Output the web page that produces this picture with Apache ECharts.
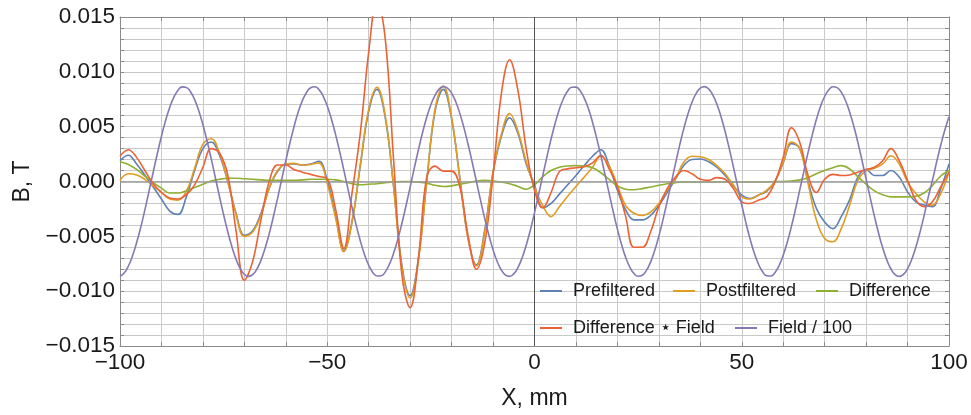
<!DOCTYPE html>
<html>
<head>
<meta charset="utf-8">
<script src="https://cdn.jsdelivr.net/npm/echarts@6/dist/echarts.min.js"></script>
<style>
  html, body { margin: 0; padding: 0; background: #fff; }
  #chart { width: 971px; height: 415px; }
</style>
</head>
<body>
<div id="chart"></div>
<script>
// Sample positions of the measured curves, mm
const X_MM = [-100,-98,-96,-94,-92,-90,-88,-86,-84,-82,-80,-78,-76,-74,-72,-70,-68,-66,-64,-62,-60,-58,-56,-54,-52,-50,-48,-46,-44,-42,-40,-38,-36,-34,-32,-30,-28,-26,-24,-22,-20,-18,-16,-14,-12,-10,-8,-6,-4,-2,0,2,4,6,8,10,12,14,16,18,20,22,24,26,28,30,32,34,36,38,40,42,44,46,48,50,52,54,56,58,60,62,64,66,68,70,72,74,76,78,80,82,84,86,88,90,92,94,96,98,100];

// Values, in mT (0.001 T)
const PREFILTERED_mT = [1.9,2.4,1.6,0.6,-0.5,-1.6,-2.7,-3.0,-1.4,1.0,3.0,3.6,2.4,0.0,-2.9,-4.9,-4.5,-2.9,-0.6,0.9,1.6,1.6,1.5,1.6,1.85,0.1,-3.1,-6.3,-3.6,1.5,6.4,8.4,5.8,-0.4,-7.6,-10.4,-7.0,0.0,6.4,8.4,5.7,0.3,-5.2,-7.6,-4.4,0.8,4.1,5.8,4.4,1.6,-0.3,-2.4,-2.0,-1.15,-0.3,0.55,1.45,2.3,2.9,1.45,-0.8,-2.6,-3.5,-3.5,-3.1,-2.2,-1.0,0.2,1.45,2.0,2.05,1.8,1.3,0.55,-0.4,-1.25,-1.55,-1.25,-0.9,0.0,1.7,3.45,3.0,0.0,-2.45,-3.7,-4.3,-3.2,-1.7,0.4,1.1,0.55,0.55,1.0,0.4,-0.95,-1.85,-2.15,-2.3,-0.65,1.6];

const POSTFILTERED_mT = [0.1,0.7,0.6,0.2,-0.4,-1.0,-1.6,-1.7,-0.9,1.2,3.4,3.9,2.6,0.0,-3.0,-5.0,-4.6,-3.1,-0.6,1.0,1.6,1.65,1.5,1.55,1.7,-0.2,-3.3,-6.4,-3.65,1.6,6.6,8.6,6.0,-0.5,-7.8,-10.6,-7.2,0.0,6.6,8.7,5.85,0.2,-5.3,-7.7,-4.6,0.9,4.3,6.2,4.6,1.8,-0.5,-2.2,-3.2,-2.3,-1.35,-0.45,0.4,1.3,2.3,1.45,-0.35,-2.2,-2.9,-3.1,-2.8,-2.0,-0.8,0.25,1.75,2.3,2.25,2.0,1.45,0.7,-0.35,-1.4,-1.6,-1.25,-0.8,0.0,1.75,3.6,3.0,-0.2,-3.5,-5.2,-5.5,-4.3,-2.2,0.1,1.0,1.2,1.6,2.35,1.6,-0.05,-1.1,-1.85,-2.15,-1.1,0.85];

const DIFFERENCE_mT = [1.8,1.55,1.1,0.5,-0.1,-0.6,-1.05,-1.05,-0.85,-0.55,-0.25,0.05,0.2,0.3,0.3,0.25,0.2,0.15,0.1,0.1,0.1,0.1,0.15,0.2,0.2,0.2,0.15,0.0,-0.2,-0.3,-0.25,-0.2,-0.1,-0.05,0.0,0.0,-0.05,-0.15,-0.35,-0.45,-0.4,-0.25,-0.1,0.05,0.1,0.05,-0.05,-0.2,-0.45,-0.7,-0.3,0.45,1.0,1.3,1.42,1.45,1.4,1.25,0.8,0.2,-0.4,-0.7,-0.75,-0.65,-0.5,-0.35,-0.2,-0.1,-0.05,-0.05,-0.05,-0.05,-0.05,-0.05,-0.05,-0.05,-0.05,-0.05,-0.05,0.0,0.0,0.05,0.15,0.35,0.7,1.0,1.25,1.45,1.15,0.45,-0.25,-0.85,-1.2,-1.4,-1.4,-1.4,-1.35,-1.05,-0.35,0.5,1.0];

const DIFF_X_FIELD_mT = [2.3,2.9,2.2,1.0,-0.2,-1.0,-1.5,-1.6,-1.2,-0.3,1.3,3.0,2.6,0.6,-4.5,-9.0,-7.3,-3.5,0.0,1.5,1.5,1.1,0.85,0.65,0.45,0.25,-2.5,-6.1,-1.0,4.5,11.8,16.6,13.0,2.0,-8.5,-11.5,-7.0,0.4,1.4,0.95,0.95,-0.5,-5.0,-8.0,-5.6,0.6,8.0,11.1,8.3,3.0,-0.8,-2.4,-1.0,0.9,1.15,1.25,1.35,1.7,2.4,1.15,-0.5,-3.2,-6.0,-6.0,-4.6,-2.3,-0.65,0.4,1.0,0.7,0.2,0.1,0.35,0.2,-0.65,-1.85,-2.0,-1.7,-1.4,-0.05,2.2,4.9,3.55,0.55,-1.0,0.2,0.65,0.55,0.6,0.85,1.1,1.3,1.9,3.0,1.9,0.1,-1.7,-2.3,-1.85,-0.5,0.85];

// Field / 100 is smooth and finely sampled (1 mm), mT
const FIELD_X_MM = [-100,-99,-98,-97,-96,-95,-94,-93,-92,-91,-90,-89,-88,-87,-86,-85,-84,-83,-82,-81,-80,-79,-78,-77,-76,-75,-74,-73,-72,-71,-70,-69,-68,-67,-66,-65,-64,-63,-62,-61,-60,-59,-58,-57,-56,-55,-54,-53,-52,-51,-50,-49,-48,-47,-46,-45,-44,-43,-42,-41,-40,-39,-38,-37,-36,-35,-34,-33,-32,-31,-30,-29,-28,-27,-26,-25,-24,-23,-22,-21,-20,-19,-18,-17,-16,-15,-14,-13,-12,-11,-10,-9,-8,-7,-6,-5,-4,-3,-2,-1,0,1,2,3,4,5,6,7,8,9,10,11,12,13,14,15,16,17,18,19,20,21,22,23,24,25,26,27,28,29,30,31,32,33,34,35,36,37,38,39,40,41,42,43,44,45,46,47,48,49,50,51,52,53,54,55,56,57,58,59,60,61,62,63,64,65,66,67,68,69,70,71,72,73,74,75,76,77,78,79,80,81,82,83,84,85,86,87,88,89,90,91,92,93,94,95,96,97,98,99,100];
const FIELD_DIV100_mT = [-8.63,-8.34,-7.73,-6.80,-5.59,-4.18,-2.59,-0.89,0.84,2.53,4.13,5.56,6.76,7.70,8.33,8.63,8.58,8.19,7.47,6.46,5.18,3.70,2.08,0.36,-1.37,-3.03,-4.58,-5.95,-7.08,-7.93,-8.46,-8.65,-8.50,-8.00,-7.19,-6.09,-4.75,-3.21,-1.56,0.17,1.89,3.53,5.02,6.33,7.37,8.12,8.55,8.64,8.38,7.79,6.88,5.70,4.30,2.72,1.04,-0.69,-2.40,-4.01,-5.44,-6.67,-7.64,-8.29,-8.62,-8.60,-8.24,-7.54,-6.55,-5.30,-3.83,-2.21,-0.51,1.22,2.90,4.47,5.85,7.00,7.86,8.42,8.65,8.52,8.06,7.27,6.19,4.87,3.35,1.71,-0.02,-1.74,-3.39,-4.90,-6.22,-7.30,-8.07,-8.53,-8.65,-8.42,-7.85,-6.97,-5.81,-4.43,-2.86,-1.17,0.56,2.25,3.87,5.34,6.58,7.57,8.25,8.60,8.61,8.28,7.61,6.65,5.41,3.95,2.36,0.65,-1.08,-2.76,-4.34,-5.74,-6.92,-7.81,-8.39,-8.64,-8.55,-8.11,-7.35,-6.30,-4.98,-3.48,-1.83,-0.12,1.61,3.27,4.80,6.13,7.22,8.03,8.51,8.65,8.45,7.90,7.05,5.91,4.53,2.97,1.31,-0.42,-2.12,-3.75,-5.23,-6.49,-7.50,-8.21,-8.59,-8.62,-8.31,-7.67,-6.72,-5.51,-4.07,-2.47,-0.77,0.95,2.65,4.23,5.65,6.84,7.75,8.36,8.64,8.56,8.15,7.41,6.37,5.08,3.59,1.95,0.23,-1.49,-3.16,-4.70,-6.05,-7.15,-7.98,-8.49,-8.65,-8.47,-7.95,-7.12,-5.99,-4.63,-3.09,-1.41,0.10,1.75,3.30,4.70,5.90];

const SERIES_NAMES = ['Prefiltered', 'Postfiltered', 'Difference', 'Difference \u22C6 Field', 'Field / 100'];
const SERIES_COLORS = ['#5E81B5', '#E19C24', '#8FB032', '#EB6235', '#8778B3'];
const SERIES_X = [X_MM, X_MM, X_MM, X_MM, FIELD_X_MM];
const SERIES_VALUES = [PREFILTERED_mT, POSTFILTERED_mT, DIFFERENCE_mT, DIFF_X_FIELD_mT, FIELD_DIV100_mT];

const X_LABELS = [-100, -50, 0, 50, 100];
const Y_LABELS_mT = [-15, -10, -5, 0, 5, 10, 15];

const FONT = '"Liberation Sans", Arial, Helvetica, sans-serif';
const MINUS = '\u2212';

function pairs(xs, vals) {
  return xs.map((x, i) => [x, vals[i] / 1000]);
}

function fmtX(v) {
  const r = Math.round(v);
  if (X_LABELS.indexOf(r) < 0) return '';
  return r < 0 ? MINUS + Math.abs(r) : String(r);
}
function fmtY(v) {
  const m = Math.round(v * 1000);
  if (Y_LABELS_mT.indexOf(m) < 0) return '';
  const s = (Math.abs(m) / 1000).toFixed(3);
  return m < 0 ? MINUS + s : s;
}

const chart = echarts.init(document.getElementById('chart'), null, { renderer: 'canvas' });

const gridLine = { show: true, lineStyle: { color: '#c9c9c9', width: 1 } };
const frame = { show: true, onZero: false, lineStyle: { color: '#8a8a8a', width: 1 } };
const tick = { show: true, inside: true, length: 4, lineStyle: { color: '#8a8a8a' } };

const series = [{
  type: 'line', data: [], z: 1, silent: true,
  markLine: {
    silent: true, symbol: 'none', animation: false,
    label: { show: false },
    data: [
      { yAxis: 0, lineStyle: { color: '#9c9c9c', width: 1.6, type: 'solid' } },
      { xAxis: 0, lineStyle: { color: '#555555', width: 1, type: 'solid' } }
    ]
  }
}];
SERIES_NAMES.forEach((name, i) => {
  series.push({
    name: name, type: 'line', data: pairs(SERIES_X[i], SERIES_VALUES[i]),
    showSymbol: false, smooth: i === 4 ? 0.5 : 0.4, z: 2 + i,
    lineStyle: { color: SERIES_COLORS[i], width: 1.6 },
    itemStyle: { color: SERIES_COLORS[i] },
    clip: true
  });
});

const legendPos = [[540, 282], [673, 282], [816, 282], [540, 319], [735, 319]];
const legends = SERIES_NAMES.map((name, i) => ({
  data: [name], left: legendPos[i][0], top: legendPos[i][1], padding: 0,
  icon: 'rect', itemWidth: 22, itemHeight: 2,
  textStyle: { fontFamily: FONT, fontSize: 18, color: '#1a1a1a', padding: [0, 0, 0, 6] },
  selectedMode: false
}));

chart.setOption({
  animation: false,
  backgroundColor: '#ffffff',
  grid: { left: 120, right: 22, top: 17, bottom: 66, containLabel: false },
  legend: legends,
  xAxis: [{
    type: 'value', min: -100, max: 100, interval: 10, position: 'bottom',
    name: 'X, mm', nameLocation: 'middle', nameGap: 41,
    nameTextStyle: { fontFamily: FONT, fontSize: 23, color: '#1a1a1a' },
    axisLine: frame, axisTick: tick,
    axisLabel: { formatter: fmtX, fontFamily: FONT, fontSize: 22.5, color: '#1a1a1a', margin: 5, showMinLabel: true, showMaxLabel: true },
    splitLine: gridLine
  }, {
    type: 'value', min: -100, max: 100, interval: 10, position: 'top',
    axisLine: frame, axisTick: tick, axisLabel: { show: false }, splitLine: { show: false }
  }],
  yAxis: [{
    type: 'value', min: -0.015, max: 0.015, interval: 0.001, position: 'left',
    name: 'B, T', nameLocation: 'middle', nameGap: 84, nameRotate: 90,
    nameTextStyle: { fontFamily: FONT, fontSize: 23, color: '#1a1a1a' },
    axisLine: frame, axisTick: tick,
    axisLabel: { formatter: fmtY, fontFamily: FONT, fontSize: 22.5, color: '#1a1a1a', margin: 5, showMinLabel: true, showMaxLabel: true },
    splitLine: gridLine
  }, {
    type: 'value', min: -0.015, max: 0.015, interval: 0.001, position: 'right',
    axisLine: frame, axisTick: tick, axisLabel: { show: false }, splitLine: { show: false }
  }],
  series: series
});
</script>
</body>
</html>
